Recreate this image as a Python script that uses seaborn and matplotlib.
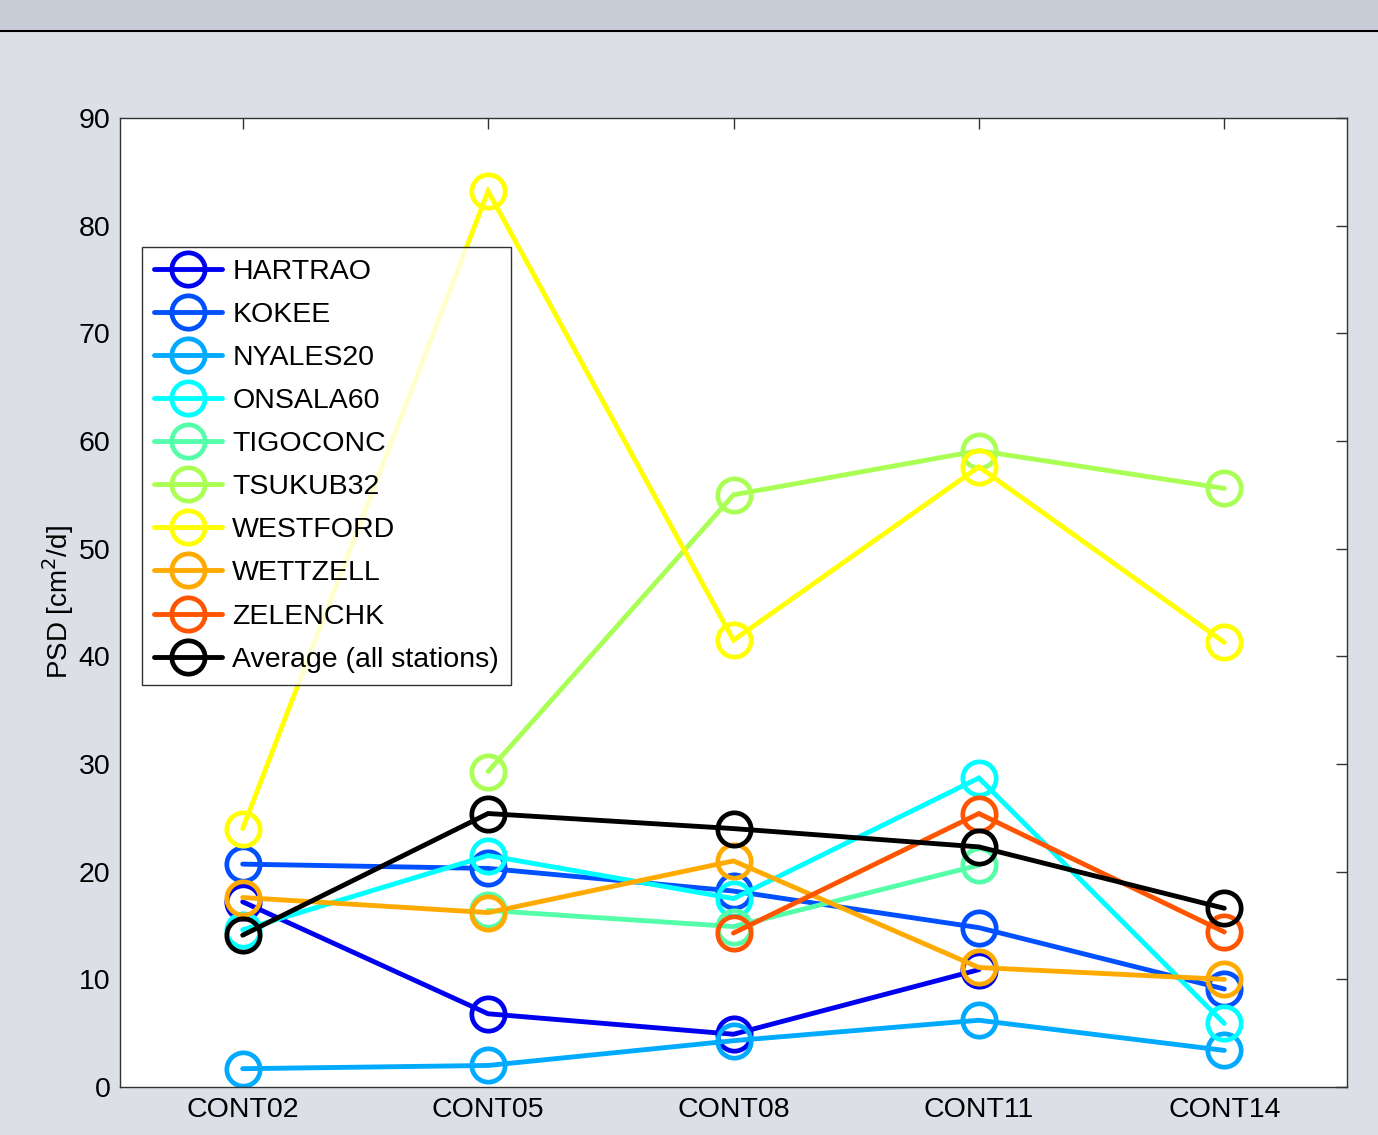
import numpy as np
import pandas as pd
import matplotlib
matplotlib.use("Agg")
import matplotlib.pyplot as plt
import seaborn as sns
from matplotlib.patches import Rectangle
from matplotlib.lines import Line2D

campaigns = ["CONT02", "CONT05", "CONT08", "CONT11", "CONT14"]
stations = ["HARTRAO", "KOKEE", "NYALES20", "ONSALA60", "TIGOCONC",
            "TSUKUB32", "WESTFORD", "WETTZELL", "ZELENCHK", "Average (all stations)"]

hartrao  = [17.2, 6.8, 4.9, 10.9, np.nan]
kokee    = [20.7, 20.3, 18.2, 14.8, 9.1]
nyales20 = [1.7, 2.0, 4.3, 6.2, 3.4]
onsala60 = [14.6, 21.5, 17.5, 28.7, 5.9]
tigoconc = [np.nan, 16.4, 14.9, 20.6, np.nan]
tsukub32 = [np.nan, 29.3, 55.0, 59.1, 55.6]
westford = [24.0, 83.2, 41.5, 57.6, 41.3]
wettzell = [17.6, 16.2, 21.0, 11.1, 10.0]
zelenchk = [np.nan, np.nan, 14.3, 25.4, 14.4]
average  = [14.1, 25.4, 24.0, 22.3, 16.6]

series = [hartrao, kokee, nyales20, onsala60, tigoconc,
          tsukub32, westford, wettzell, zelenchk, average]

colors = ["#0000f0", "#0050ff", "#00aaff", "#00ffff", "#55ffaa",
          "#aaff55", "#ffff00", "#ffaa00", "#ff5500", "#000000"]

sns.set_theme(style="white")
plt.rcParams["font.family"] = ["Liberation Sans", "DejaVu Sans"]
plt.rcParams["text.color"] = "black"
plt.rcParams["axes.labelcolor"] = "black"

fig = plt.figure(figsize=(13.78, 11.35), dpi=100)
fig.patch.set_facecolor("#dcdfe6")
# title bar strip at the top of the window
fig.patches.append(Rectangle((0, 1 - 30 / 1135), 1, 30 / 1135, transform=fig.transFigure,
                             facecolor="#c8ccd6", edgecolor="none", zorder=0))
fig.lines.append(Line2D([0, 1], [1 - 31 / 1135] * 2, transform=fig.transFigure,
                        color="black", lw=1.5))

ax = fig.add_axes([120 / 1378, 1 - 1087 / 1135, (1347 - 120) / 1378, (1087 - 118) / 1135])
ax.set_facecolor("white")

x_idx = np.arange(len(campaigns))
for name, vals, col in zip(stations, series, colors):
    df = pd.DataFrame({"campaign": x_idx, "psd": vals})
    sns.lineplot(data=df, x="campaign", y="psd", ax=ax, color=col, label=name,
                 marker="o", markersize=24, markerfacecolor="none",
                 markeredgecolor=col, markeredgewidth=3.4, linewidth=3.5,
                 solid_joinstyle="miter")

ax.set_xlim(-0.5, 4.5)
ax.set_ylim(0, 90)
ax.set_xticks(x_idx)
ax.set_xticklabels(campaigns)
ax.set_yticks(np.arange(0, 91, 10))
ax.set_xlabel("")
ax.set_ylabel("PSD [cm$^2$/d]", fontsize=20, labelpad=2, color="black")
ax.tick_params(axis="both", direction="in", length=8, width=1, labelsize=20.5,
               top=True, right=True, colors="#333333", labelcolor="black", pad=7)
for sp in ax.spines.values():
    sp.set_color("#333333")
    sp.set_linewidth(1.0)

leg = ax.legend(loc="upper left", bbox_to_anchor=(0.018, 0.867), borderaxespad=0,
                fontsize=20.5, handlelength=2.4, handletextpad=0.35,
                labelspacing=0.6, borderpad=0.42, frameon=True, fancybox=False)
leg.get_frame().set_edgecolor("black")
leg.get_frame().set_linewidth(1.0)
for t in leg.get_texts():
    t.set_color("black")

fig.savefig("out.png", dpi=100, facecolor=fig.get_facecolor())
